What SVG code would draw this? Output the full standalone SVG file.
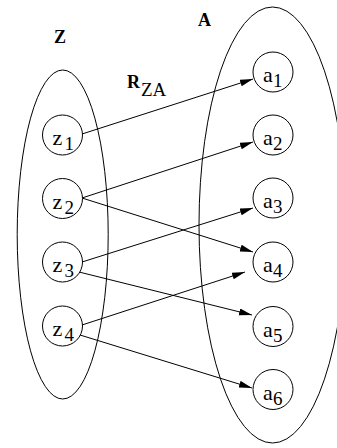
<svg xmlns="http://www.w3.org/2000/svg" width="337" height="448" viewBox="0 0 337 448">
<style>
  .set { fill: none; stroke: #000; stroke-width: 1; }
  .node { fill: #fff; stroke: #000; stroke-width: 1; }
  .edge { fill: none; stroke: #000; stroke-width: 1; marker-end: url(#arr); }
  text { font-family: 'Liberation Serif', 'Times New Roman', Times, serif; fill: #000; }
  .lbl { font-size: 22px; }
  .sub { font-size: 19px; }
  .title { font-size: 18px; font-weight: bold; }
  .rlbl { font-size: 18px; font-weight: bold; }
  .subt { font-size: 19px; }
</style>
<defs>
  <marker id="arr" markerUnits="userSpaceOnUse" markerWidth="14" markerHeight="8" refX="13" refY="3.5" orient="auto">
    <path d="M0,0 L13,3.5 L0,7 z" fill="#000"/>
  </marker>
</defs>
<rect width="337" height="448" fill="#fff"/>
<g id="set-Z">
  <ellipse class="set" cx="62.7" cy="234.5" rx="45.5" ry="164.5"/>
  <text class="title" x="54" y="43">Z</text>
</g>
<g id="set-A">
  <ellipse class="set" cx="272.5" cy="225" rx="73.5" ry="218"/>
  <text class="title" x="198" y="26">A</text>
</g>
<g id="label-RZA">
  <text class="rlbl" x="127" y="88">R</text>
  <text class="subt" x="141" y="96">ZA</text>
</g>
<g id="connectors">
  <line class="edge" x1="82" y1="134" x2="253" y2="79"/>
  <line class="edge" x1="82" y1="198" x2="253" y2="142"/>
  <line class="edge" x1="82" y1="198" x2="253" y2="252"/>
  <line class="edge" x1="82" y1="262" x2="253" y2="208"/>
  <line class="edge" x1="79" y1="272" x2="252" y2="315"/>
  <line class="edge" x1="82" y1="325" x2="245" y2="272"/>
  <line class="edge" x1="80" y1="335" x2="252" y2="388"/>
</g>
<g id="z1"><circle class="node" cx="62.5" cy="135" r="20"/><text class="lbl" x="52.5" y="145">z</text><text class="sub" x="64.5" y="150">1</text></g>
<g id="z2"><circle class="node" cx="62.5" cy="198.5" r="20"/><text class="lbl" x="52.5" y="208.5">z</text><text class="sub" x="64.5" y="213.5">2</text></g>
<g id="z3"><circle class="node" cx="62.5" cy="262" r="20"/><text class="lbl" x="52.5" y="272">z</text><text class="sub" x="64.5" y="277">3</text></g>
<g id="z4"><circle class="node" cx="62.5" cy="326" r="20"/><text class="lbl" x="52.5" y="336">z</text><text class="sub" x="64.5" y="341">4</text></g>
<g id="a1"><circle class="node" cx="273" cy="72" r="20"/><text class="lbl" x="263" y="82">a</text><text class="sub" x="273" y="87">1</text></g>
<g id="a2"><circle class="node" cx="273" cy="135" r="20"/><text class="lbl" x="263" y="145">a</text><text class="sub" x="273" y="150">2</text></g>
<g id="a3"><circle class="node" cx="273" cy="198" r="20"/><text class="lbl" x="263" y="208">a</text><text class="sub" x="273" y="213">3</text></g>
<g id="a4"><circle class="node" cx="273" cy="262" r="20"/><text class="lbl" x="263" y="272">a</text><text class="sub" x="273" y="277">4</text></g>
<g id="a5"><circle class="node" cx="273" cy="326.5" r="20"/><text class="lbl" x="263" y="336.5">a</text><text class="sub" x="273" y="341.5">5</text></g>
<g id="a6"><circle class="node" cx="273" cy="389.5" r="20"/><text class="lbl" x="263" y="399.5">a</text><text class="sub" x="273" y="404.5">6</text></g>
</svg>
